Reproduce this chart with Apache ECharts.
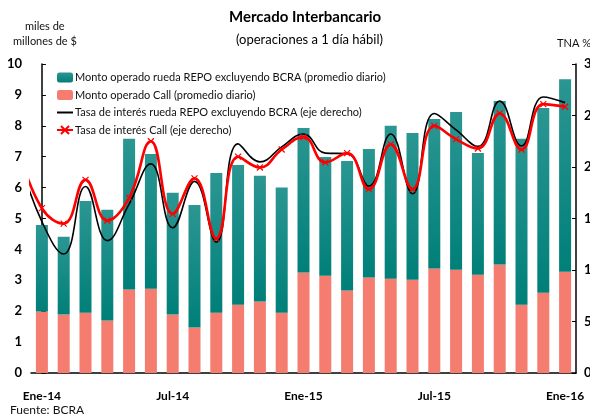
<!DOCTYPE html>
<html>
<head>
<meta charset="utf-8">
<script src="https://cdn.jsdelivr.net/npm/echarts@6/dist/echarts.min.js"></script>
<style>
  html, body { margin: 0; padding: 0; background: #fff; }
  #chart { width: 590px; height: 418px; }
</style>
</head>
<body>
<div id="chart"></div>
<script>
// meses (Ene-14 .. Ene-16)
var months = ['Ene-14','Feb-14','Mar-14','Abr-14','May-14','Jun-14','Jul-14','Ago-14','Sep-14','Oct-14','Nov-14','Dic-14',
              'Ene-15','Feb-15','Mar-15','Abr-15','May-15','Jun-15','Jul-15','Ago-15','Sep-15','Oct-15','Nov-15','Dic-15','Ene-16']

// montos, miles de millones de $ (promedio diario)
var callVol = [1.99, 1.89, 1.95, 1.70, 2.70, 2.73, 1.89, 1.47, 1.95, 2.21, 2.31, 1.95,
               3.25, 3.15, 2.67, 3.09, 3.05, 3.02, 3.38, 3.34, 3.18, 3.51, 2.21, 2.60, 3.28]
var repoVol = [2.80, 2.52, 3.62, 3.58, 4.88, 4.36, 3.94, 3.97, 4.52, 4.52, 4.07, 4.05,
               4.68, 3.84, 4.19, 4.16, 4.95, 4.75, 4.84, 5.11, 3.94, 5.29, 5.37, 5.98, 6.23]

// tasas TNA % (el primer valor es Dic-13, queda cortado en el borde)
var repoRate = [20.6, 14.7, 11.55, 18.1, 12.85, 16.4, 20.3, 14.1, 18.6, 12.7, 22.25, 20.5, 21.95,
                23.2, 21.35, 21.3, 18.15, 23.2, 17.4, 25.2, 23.6, 22.0, 26.4, 22.05, 26.8, 26.25]
var callRate = [21.2, 16.0, 14.5, 18.75, 14.8, 17.0, 22.5, 15.45, 18.9, 13.05, 21.0, 19.95, 21.7,
                22.9, 20.45, 21.35, 17.85, 22.2, 17.85, 24.0, 22.7, 21.8, 25.2, 21.7, 26.1, 25.85]

var leftTicks = [0, 10, 1]
var rightTicks = [0, 30, 5]

var names = [
    'Monto operado rueda REPO excluyendo BCRA (promedio diario)',
    'Monto operado Call (promedio diario)',
    'Tasa de interés rueda REPO excluyendo BCRA (eje derecho)',
    'Tasa de interés Call (eje derecho)'
]

var font = 'Lato, "Open Sans", sans-serif'
var teal = new echarts.graphic.LinearGradient(0, 0, 0, 1, [
    {offset: 0, color: '#2b9692'},
    {offset: 1, color: '#007f79'}
])

// las tasas van sobre un eje x numerico oculto: indice -1 = Dic-13
function withIndex(arr){
    return arr.map(function(v, i){ return [i - 1, v] })
}

var chart = echarts.init(document.getElementById('chart'))

var option = {
    animation: false,
    textStyle: {fontFamily: font},
    grid: {left: 31, right: 14, top: 64, bottom: 45, outerBoundsMode: 'none', containLabel: false},
    legend: {
        orient: 'vertical',
        left: 51,
        top: 67,
        itemGap: 6.5,
        itemWidth: 16,
        itemHeight: 10,
        data: [
            names[0],
            names[1],
            {name: names[2], itemStyle: {opacity: 0}},
            names[3]
        ],
        textStyle: {fontFamily: font, fontSize: 11, color: '#111', padding: [0, 0, 0, -3]}
    },
    graphic: [
        {type: 'text', left: 229, top: 10, style: {text: 'Mercado Interbancario', font: 'bold 15px ' + font, fill: '#000'}},
        {type: 'text', left: 236, top: 33, style: {text: '(operaciones a 1 día hábil)', font: '13px ' + font, fill: '#000'}},
        {type: 'text', left: 25, top: 21, style: {text: 'miles de', font: '11px ' + font, fill: '#111'}},
        {type: 'text', left: 13, top: 36, style: {text: 'millones de $', font: '11px ' + font, fill: '#111'}},
        {type: 'text', left: 557, top: 38, style: {text: 'TNA %', font: '11px ' + font, fill: '#111'}},
        {type: 'text', left: 10, top: 404, style: {text: 'Fuente: BCRA', font: '12px ' + font, fill: '#111'}}
    ],
    xAxis: [
        {
            type: 'category',
            data: months,
            boundaryGap: true,
            axisLine: {lineStyle: {color: '#000', width: 1.5}},
            axisTick: {inside: true, length: 4, interval: 5, lineStyle: {color: '#000'}},
            axisLabel: {interval: 5, margin: 17, fontWeight: 'bold', fontSize: 12, color: '#000', fontFamily: font},
            splitLine: {show: false}
        },
        {
            type: 'value',
            min: -0.5,
            max: months.length - 0.5,
            show: false
        }
    ],
    yAxis: [
        {
            type: 'value',
            min: leftTicks[0], max: leftTicks[1], interval: leftTicks[2],
            axisLine: {show: true, lineStyle: {color: '#000', width: 1.5}},
            axisTick: {show: true, inside: true, length: 4, lineStyle: {color: '#000'}},
            axisLabel: {margin: 9, fontWeight: 'bold', fontSize: 13, color: '#000', fontFamily: font},
            splitLine: {show: false}
        },
        {
            type: 'value',
            position: 'right',
            min: rightTicks[0], max: rightTicks[1], interval: rightTicks[2],
            axisLine: {show: true, lineStyle: {color: '#000', width: 1.5}},
            axisTick: {show: true, inside: true, length: 4, lineStyle: {color: '#000'}},
            axisLabel: {margin: 8, fontWeight: 'bold', fontSize: 13, color: '#000', fontFamily: font},
            splitLine: {show: false}
        }
    ],
    series: [
        {
            name: names[1],
            type: 'bar',
            stack: 'monto',
            data: callVol,
            barWidth: 12,
            itemStyle: {color: '#f47d70'}
        },
        {
            name: names[0],
            type: 'bar',
            stack: 'monto',
            data: repoVol,
            barWidth: 12,
            itemStyle: {color: teal}
        },
        {
            name: names[2],
            type: 'line',
            xAxisIndex: 1,
            yAxisIndex: 1,
            data: withIndex(repoRate),
            smooth: 0.45,
            symbol: 'none',
            clip: true,
            lineStyle: {color: '#000', width: 1.6},
            itemStyle: {color: '#000'}
        },
        {
            name: names[3],
            type: 'line',
            xAxisIndex: 1,
            yAxisIndex: 1,
            data: withIndex(callRate),
            smooth: 0.45,
            clip: true,
            symbol: 'path://M0,0L10,10M10,0L0,10',
            symbolSize: 6,
            lineStyle: {color: '#ff0000', width: 2.6},
            itemStyle: {color: '#ff0000', borderColor: '#ff0000', borderWidth: 1.2}
        }
    ]
}

chart.setOption(option)
</script>
</body>
</html>
